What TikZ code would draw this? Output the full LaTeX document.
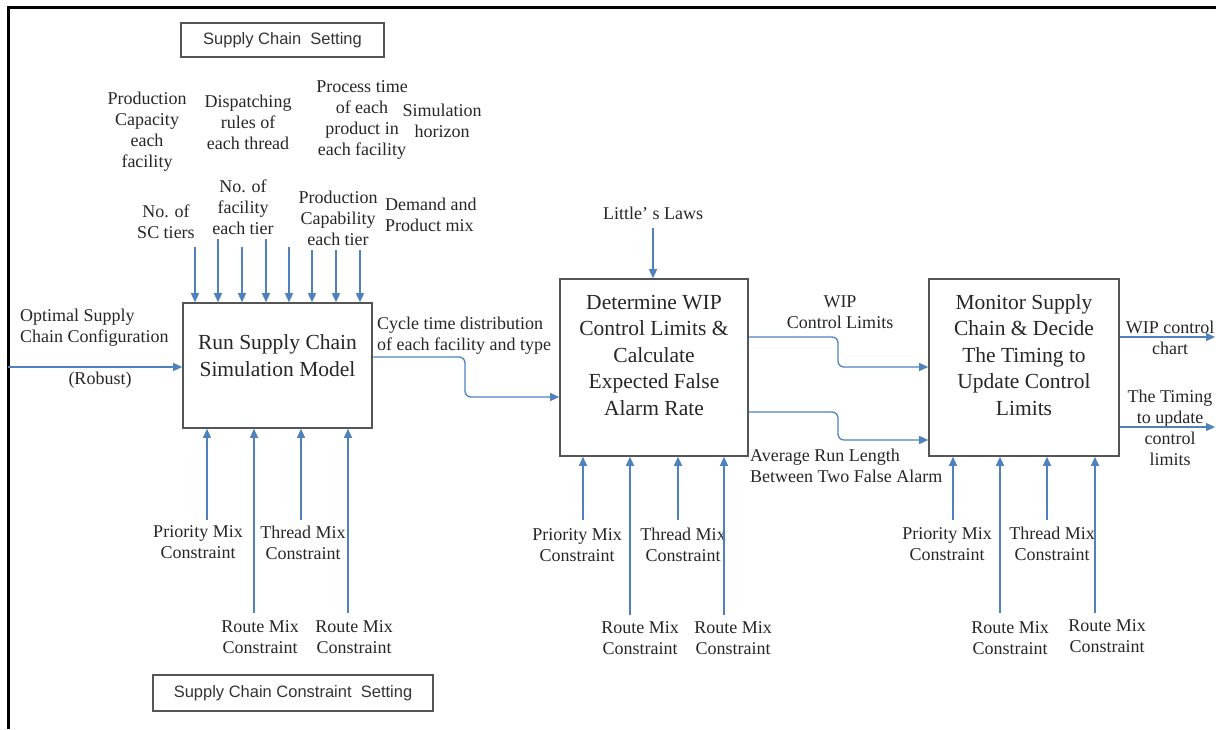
\documentclass[tikz,border=0pt]{standalone}
\usepackage{fontspec}
\setmainfont{Liberation Serif}
\newfontfamily\sansfont{Liberation Sans}
\usepackage{tikz}
\usetikzlibrary{arrows.meta, positioning}
\definecolor{flowblue}{RGB}{79,129,189}
\definecolor{edgegray}{RGB}{85,85,85}

\begin{document}
\begin{tikzpicture}[
    x=1pt, y=-1pt,
    proc/.style={
        draw=edgegray,
        line width=1.6pt,
        inner sep=0pt
    },
    proctxt/.style={
        align=center,
        inner sep=0pt,
        text=black!85,
        font=\fontsize{21.5}{26.5}\selectfont
    },
    lbl/.style={
        align=center,
        inner sep=0pt,
        text=black!85,
        font=\fontsize{18}{21}\selectfont
    },
    setbox/.style={
        draw=edgegray,
        line width=1.2pt,
        inner sep=0pt,
        text=black!80,
        font=\sansfont\fontsize{16.5}{19}\selectfont
    },
    flow/.style={draw=flowblue, line width=1.3pt, ->},
    >={Triangle[length=9pt,width=8pt]}
]

\useasboundingbox (0,0) rectangle (1216,729);
\draw[line width=3pt] (1216,7) -- (8,7) -- (8,729);

\node[setbox, minimum width=203pt, minimum height=34pt] (scset) at (282.5,40) {Supply Chain\ \ Setting\hspace{10pt}};
\node[setbox, minimum width=280pt, minimum height=36pt] (scconst) at (293,693) {Supply Chain Constraint\ \ Setting\hspace{10pt}};

\node[proc, minimum width=189pt, minimum height=125pt] (run) at (277.5,365.5) {};
\node[proctxt] (runtxt) at (277.5,355.5) {Run Supply Chain\\Simulation Model};

\node[proc, minimum width=188pt, minimum height=177pt] (det) at (654,367.5) {};
\node[proctxt] (dettxt) at (654,355) {Determine WIP\\Control Limits \&\\Calculate\\Expected False\\Alarm Rate};

\node[proc, minimum width=190pt, minimum height=177pt] (mon) at (1024,367.5) {};
\node[proctxt] (montxt) at (1024,355) {Monitor Supply\\Chain \& Decide\\The Timing to\\Update Control\\Limits};

\node[lbl] (capacity) at (147,132) {Production\\Capacity\\each\\facility};
\node[lbl] (dispatch) at (248,122) {Dispatching\\rules of\\each thread};
\node[lbl] (proctime) at (362,119.5) {Process time\\of each\\product in\\each facility};
\node[lbl] (horizon) at (442,121) {Simulation\\horizon};
\node[lbl] (tiers) at (166,221.5) {No. of\\SC tiers};
\node[lbl] (facility) at (243,207) {No. of\\facility\\each tier};
\node[lbl] (capability) at (338,218) {Production\\Capability\\each tier};
\node[lbl, anchor=west, align=left] (demand) at (385,215) {Demand and\\Product mix};

\node[lbl, anchor=west, align=left] (optimal) at (20,327.5) {Optimal Supply\\Chain Configuration};
\node[lbl] (robust) at (100,380) {(Robust)};
\node[lbl, anchor=west, align=left] (cycle) at (377,336) {Cycle time distribution\\of each facility and type};
\node[lbl] (little) at (653,213) {Little' s Laws};
\node[lbl] (wiplim) at (840,312) {WIP\\Control Limits};
\node[lbl, anchor=west, align=left] (arl) at (750,466) {Average Run Length\\Between Two False Alarm};
\node[lbl] (wipchart) at (1170,338) {WIP control\\chart};
\node[lbl] (timing) at (1170,427.5) {The Timing\\to update\\control\\limits};

\node[lbl] (prio1) at (198,542.5) {Priority Mix\\Constraint};
\node[lbl] (thread1) at (303,542.5) {Thread Mix\\Constraint};
\node[lbl] (routea1) at (260,637) {Route Mix\\Constraint};
\node[lbl] (routeb1) at (354,637) {Route Mix\\Constraint};

\node[lbl] (prio2) at (577,545) {Priority Mix\\Constraint};
\node[lbl] (thread2) at (683,545) {Thread Mix\\Constraint};
\node[lbl] (routea2) at (640,638) {Route Mix\\Constraint};
\node[lbl] (routeb2) at (733,638) {Route Mix\\Constraint};

\node[lbl] (prio3) at (947,544) {Priority Mix\\Constraint};
\node[lbl] (thread3) at (1052,544) {Thread Mix\\Constraint};
\node[lbl] (routea3) at (1010,638) {Route Mix\\Constraint};
\node[lbl] (routeb3) at (1107,636) {Route Mix\\Constraint};

\coordinate (top1) at (195,247);
\coordinate (top2) at (218,239);
\coordinate (top3) at (242,247);
\coordinate (top4) at (266,239);
\coordinate (top5) at (289,247);
\coordinate (top6) at (312,250);
\coordinate (top7) at (336,250);
\coordinate (top8) at (360,250);
\draw[flow] (top1) -- (top1 |- run.north);
\draw[flow] (top2) -- (top2 |- run.north);
\draw[flow] (top3) -- (top3 |- run.north);
\draw[flow] (top4) -- (top4 |- run.north);
\draw[flow] (top5) -- (top5 |- run.north);
\draw[flow] (top6) -- (top6 |- run.north);
\draw[flow] (top7) -- (top7 |- run.north);
\draw[flow] (top8) -- (top8 |- run.north);

\coordinate (bot11) at (207,520);
\coordinate (bot12) at (254,613);
\coordinate (bot13) at (301,520);
\coordinate (bot14) at (348,613);
\draw[flow] (bot11) -- (bot11 |- run.south);
\draw[flow] (bot12) -- (bot12 |- run.south);
\draw[flow] (bot13) -- (bot13 |- run.south);
\draw[flow] (bot14) -- (bot14 |- run.south);

\coordinate (bot21) at (583,520);
\coordinate (bot22) at (630,615);
\coordinate (bot23) at (678,520);
\coordinate (bot24) at (724,615);
\draw[flow] (bot21) -- (bot21 |- det.south);
\draw[flow] (bot22) -- (bot22 |- det.south);
\draw[flow] (bot23) -- (bot23 |- det.south);
\draw[flow] (bot24) -- (bot24 |- det.south);

\coordinate (bot31) at (953,520);
\coordinate (bot32) at (1000,613);
\coordinate (bot33) at (1047,520);
\coordinate (bot34) at (1095,613);
\draw[flow] (bot31) -- (bot31 |- mon.south);
\draw[flow] (bot32) -- (bot32 |- mon.south);
\draw[flow] (bot33) -- (bot33 |- mon.south);
\draw[flow] (bot34) -- (bot34 |- mon.south);

\coordinate (inlet) at (8,367);
\draw[flow] (inlet) -- (inlet -| run.west);

\coordinate (lit) at (653,228);
\draw[flow] (lit) -- (lit |- det.north);

\coordinate (cycA) at (465,357);
\coordinate (cycB) at (465,397);
\draw[flow, rounded corners=6pt] (cycA -| run.east) -- (cycA) -- (cycB) -- (cycB -| det.west);

\coordinate (wipA) at (838,337);
\coordinate (wipB) at (838,367);
\draw[flow, rounded corners=6pt] (wipA -| det.east) -- (wipA) -- (wipB) -- (wipB -| mon.west);

\coordinate (arlA) at (838,412);
\coordinate (arlB) at (838,440);
\draw[flow, rounded corners=6pt] (arlA -| det.east) -- (arlA) -- (arlB) -- (arlB -| mon.west);

\coordinate (outA) at (1215,337);
\coordinate (outB) at (1215,427);
\draw[flow] (outA -| mon.east) -- (outA);
\draw[flow] (outB -| mon.east) -- (outB);

\end{tikzpicture}
\end{document}
